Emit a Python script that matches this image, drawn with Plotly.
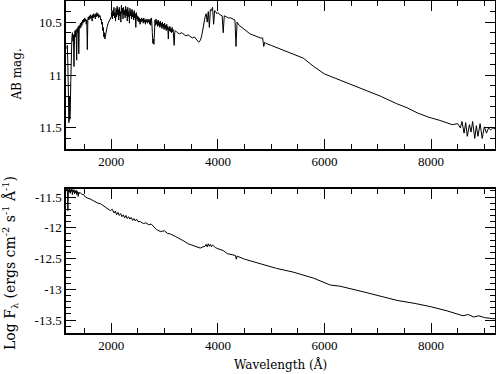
import plotly.graph_objects as go
from plotly.subplots import make_subplots

# ---- Data (wavelength in Angstrom) ----
wl_top = [1165, 1175, 1185, 1195, 1205, 1215, 1222, 1230, 1240, 1250, 1260, 1270, 1280, 1290,
          1300, 1310, 1320, 1330, 1340, 1350, 1360, 1370, 1380, 1390, 1400, 1410, 1420, 1430,
          1440, 1450, 1460, 1470, 1480, 1490, 1500, 1510, 1520, 1530, 1540, 1550, 1560, 1570,
          1580, 1590, 1600, 1610, 1620, 1630, 1640, 1650, 1660, 1670, 1680, 1690, 1700, 1710,
          1720, 1730, 1740, 1750, 1760, 1770, 1780, 1790, 1800, 1810, 1820, 1830, 1840, 1850,
          1860, 1870, 1880, 1890, 1900, 1920, 1940, 1960, 1980,
          2000, 2010, 2020, 2030, 2040, 2050, 2060, 2070, 2080, 2090, 2100, 2110, 2120, 2130,
          2140, 2150, 2160, 2170, 2180, 2190, 2200, 2210, 2220, 2230, 2240, 2250, 2260, 2270,
          2280, 2290, 2300, 2310, 2320, 2330, 2340, 2350, 2360, 2370, 2380, 2390, 2400, 2410,
          2420, 2430, 2440, 2450, 2460, 2470, 2480, 2490, 2500, 2510, 2520, 2530, 2540, 2550,
          2560, 2570, 2580, 2590, 2600, 2610, 2620, 2630, 2640, 2650, 2660, 2670, 2680, 2690,
          2700, 2710, 2720, 2730, 2740, 2750, 2760, 2770, 2780, 2790, 2800, 2810, 2820, 2830,
          2840, 2850, 2860, 2870, 2880, 2890, 2900, 2910, 2920, 2930, 2940, 2950, 2960, 2970,
          2980, 2990, 3000, 3010, 3020, 3030, 3040, 3050, 3060, 3070, 3080, 3090, 3100, 3110,
          3120, 3130, 3140, 3150, 3160, 3170, 3180, 3190, 3200,
          3240, 3280, 3320, 3360, 3400, 3440, 3480, 3520, 3560, 3600, 3640, 3660, 3680, 3700,
          3720, 3740, 3760, 3780, 3800, 3820, 3840, 3860, 3880, 3900, 3920, 3940, 3960, 3980,
          4000, 4040, 4080, 4100, 4120, 4160, 4200, 4240, 4280, 4320, 4340, 4360, 4400, 4450,
          4500, 4550, 4600, 4650, 4700, 4750, 4800, 4840, 4860, 4880, 4900, 5000, 5100, 5200,
          5400, 5600, 5800, 6000, 6200, 6500, 6650, 6800, 7050, 7350, 7550, 7750, 7960, 8170,
          8400, 8500, 8550, 8580, 8620, 8650, 8680, 8720, 8750, 8780, 8820, 8850, 8880, 8920,
          8960, 9000, 9040, 9080, 9120, 9160, 9200]
mag_top = [10.75, 10.72, 10.90, 11.30, 11.45, 11.20, 11.42, 11.35, 11.05, 10.72, 10.65, 10.60, 10.68, 10.62,
           10.92, 10.61, 10.58, 10.64, 10.57, 10.86, 10.56, 10.60, 10.54, 10.80, 10.53, 10.56, 10.51, 10.55,
           10.50, 10.53, 10.48, 10.51, 10.47, 10.50, 10.46, 10.49, 10.47, 10.52, 10.48, 10.76, 10.47, 10.45,
           10.48, 10.44, 10.47, 10.43, 10.46, 10.44, 10.49, 10.43, 10.46, 10.42, 10.45, 10.43, 10.47, 10.42,
           10.45, 10.41, 10.44, 10.42, 10.46, 10.43, 10.45, 10.44, 10.48, 10.47, 10.52, 10.50, 10.58, 10.55,
           10.64, 10.60, 10.66, 10.62, 10.60, 10.55, 10.51, 10.49, 10.47,
           10.45, 10.40, 10.47, 10.39, 10.44, 10.36, 10.46, 10.41, 10.49, 10.37, 10.45, 10.35, 10.43, 10.38,
           10.48, 10.36, 10.44, 10.40, 10.50, 10.34, 10.42, 10.37, 10.47, 10.36, 10.43, 10.39, 10.46, 10.35,
           10.44, 10.38, 10.49, 10.36, 10.45, 10.40, 10.51, 10.37, 10.44, 10.39, 10.47, 10.38, 10.45, 10.41,
           10.48, 10.39, 10.46, 10.42, 10.55, 10.41, 10.47, 10.44, 10.49, 10.45, 10.50, 10.46, 10.52, 10.47,
           10.50, 10.46, 10.49, 10.47, 10.51, 10.46, 10.50, 10.48, 10.52, 10.47, 10.50, 10.48, 10.51, 10.47,
           10.50, 10.48, 10.52, 10.47, 10.53, 10.46, 10.50, 10.60, 10.70, 10.66, 10.71, 10.52, 10.48, 10.53,
           10.47, 10.52, 10.49, 10.54, 10.48, 10.53, 10.50, 10.55, 10.49, 10.54, 10.51, 10.56, 10.50, 10.55,
           10.52, 10.57, 10.51, 10.56, 10.53, 10.58, 10.52, 10.57, 10.54, 10.66, 10.55, 10.58, 10.54, 10.59,
           10.56, 10.60, 10.55, 10.59, 10.57, 10.65, 10.72, 10.60, 10.58,
           10.60, 10.61, 10.60, 10.62, 10.63, 10.62, 10.64, 10.65, 10.64, 10.67, 10.69, 10.68, 10.66, 10.62,
           10.55, 10.48, 10.45, 10.42, 10.50, 10.40, 10.55, 10.38, 10.39, 10.36, 10.52, 10.39, 10.40, 10.42,
           10.41, 10.43, 10.44, 10.60, 10.44, 10.45, 10.46, 10.46, 10.47, 10.48, 10.73, 10.50, 10.53, 10.55,
           10.57, 10.59, 10.61, 10.62, 10.63, 10.64, 10.65, 10.65, 10.73, 10.69, 10.70, 10.72, 10.74, 10.76,
           10.80, 10.84, 10.92, 10.99, 11.03, 11.09, 11.12, 11.15, 11.20, 11.27, 11.31, 11.36, 11.40, 11.43,
           11.47, 11.46, 11.50, 11.44, 11.55, 11.45, 11.58, 11.47, 11.54, 11.44, 11.60, 11.48, 11.58, 11.46,
           11.60, 11.49, 11.55, 11.50, 11.52, 11.50, 11.51]

wl_bot = [1160, 1170, 1180, 1185, 1195, 1205, 1215, 1230, 1240, 1250, 1260, 1270, 1280, 1290,
          1300, 1310, 1320, 1330, 1340, 1350, 1365, 1380, 1390, 1400, 1420, 1450, 1480, 1512,
          1560, 1600, 1662, 1700, 1750, 1800, 1850, 1900, 1981, 2020, 2050, 2075, 2100, 2125,
          2150, 2175, 2200, 2225, 2250, 2275, 2300, 2325, 2350, 2375, 2400, 2425, 2450, 2475,
          2500, 2544, 2600, 2650, 2700, 2750, 2788, 2850, 2919, 3000, 3050, 3106, 3200, 3294,
          3350, 3444, 3550, 3669, 3720, 3760, 3780, 3800, 3820, 3840, 3860, 3880, 3900, 3950,
          4000, 4100, 4175, 4250, 4330, 4345, 4360, 4500, 4650, 4794, 5100, 5412, 5800, 6106,
          6294, 6725, 7000, 7362, 7700, 7981, 8300, 8600, 8700, 8800, 8900, 9000, 9100, 9200]
logf_bot = [-11.40, -11.36, -11.45, -11.72, -11.38, -11.42, -11.37, -11.44, -11.38, -11.41, -11.37, -11.46, -11.39, -11.42,
            -11.38, -11.45, -11.40, -11.43, -11.39, -11.46, -11.41, -11.49, -11.42, -11.44, -11.43, -11.46, -11.46, -11.50,
            -11.52, -11.53, -11.56, -11.58, -11.60, -11.61, -11.64, -11.67, -11.72, -11.70, -11.76, -11.73, -11.79, -11.75,
            -11.80, -11.77, -11.82, -11.79, -11.84, -11.80, -11.85, -11.82, -11.86, -11.83, -11.88, -11.85, -11.89, -11.86,
            -11.90, -11.90, -11.93, -11.92, -11.95, -11.94, -11.98, -12.03, -12.06, -12.05, -12.09, -12.10, -12.14, -12.18,
            -12.21, -12.26, -12.29, -12.33, -12.31, -12.30, -12.27, -12.31, -12.26, -12.30, -12.27, -12.31, -12.28, -12.32,
            -12.34, -12.37, -12.42, -12.44, -12.45, -12.51, -12.46, -12.51, -12.55, -12.59, -12.66, -12.72, -12.82, -12.93,
            -12.95, -13.04, -13.10, -13.18, -13.23, -13.28, -13.35, -13.43, -13.41, -13.45, -13.43, -13.46, -13.47, -13.48]

x_major = [2000, 4000, 6000, 8000]
top_ticks = [10.5, 11, 11.5]
bot_ticks = [-11.5, -12, -12.5, -13, -13.5]
bot_ticktext = ["-11.5", "-12", "-12.5", "-13", "-13.5"]

TICKFONT = "Liberation Serif"
LABFONT = "DejaVu Serif"

fig = make_subplots(rows=2, cols=1)
fig.add_trace(go.Scatter(x=wl_top, y=mag_top, mode="lines",
                         line=dict(color="black", width=1)), row=1, col=1)
fig.add_trace(go.Scatter(x=wl_bot, y=logf_bot, mode="lines",
                         line=dict(color="black", width=1)), row=2, col=1)

axis_common = dict(showline=True, linecolor="black", linewidth=1.5, mirror="ticks",
                   ticks="inside", ticklen=10, tickwidth=1, tickcolor="black",
                   showgrid=False, zeroline=False, automargin=False,
                   tickfont=dict(family=TICKFONT, size=13, color="black"))
minor = dict(ticks="inside", ticklen=5, tickwidth=1, tickcolor="black", showgrid=False)

fig.update_xaxes(range=[1150, 9200], tickvals=x_major, minor=dict(dtick=500, tick0=0, **minor),
                 **axis_common)
fig.update_yaxes(row=1, col=1, range=[11.7, 10.3], tickvals=top_ticks,
                 minor=dict(dtick=0.1, tick0=0, **minor), **axis_common)
fig.update_yaxes(row=2, col=1, range=[-13.71, -11.37], tickvals=bot_ticks, ticktext=bot_ticktext,
                 minor=dict(dtick=0.1, tick0=0, **minor), **axis_common)

fig.update_layout(
    width=496, height=374,
    margin=dict(l=66, r=1, t=1, b=41),
    plot_bgcolor="white", paper_bgcolor="white",
    showlegend=False,
    xaxis=dict(domain=[0, 1]),
    yaxis=dict(domain=[0.5542, 1]),
    xaxis2=dict(domain=[0, 1]),
    yaxis2=dict(domain=[0, 0.4337]),
    font=dict(family=TICKFONT, color="black"),
)

fig.add_annotation(text="AB mag.", xref="paper", yref="paper", x=-0.113, y=0.777,
                   xanchor="center", yanchor="middle", textangle=-90, showarrow=False,
                   font=dict(family=LABFONT, size=12, color="black"))
fig.add_annotation(text="Log F<sub>λ</sub> (ergs cm<sup>-2</sup> s<sup>-1</sup> Å<sup>-1</sup>)",
                   xref="paper", yref="paper", x=-0.1305, y=0.211,
                   xanchor="center", yanchor="middle", textangle=-90, showarrow=False,
                   font=dict(family=LABFONT, size=14, color="black"))
fig.add_annotation(text="Wavelength (Å)", xref="paper", yref="paper", x=0.499, y=-0.066,
                   xanchor="center", yanchor="top", showarrow=False,
                   font=dict(family=LABFONT, size=12, color="black"))

fig.write_html("out.html", config={"displayModeBar": False},
               post_script="document.body.style.margin='0px';document.body.style.padding='0px';")
